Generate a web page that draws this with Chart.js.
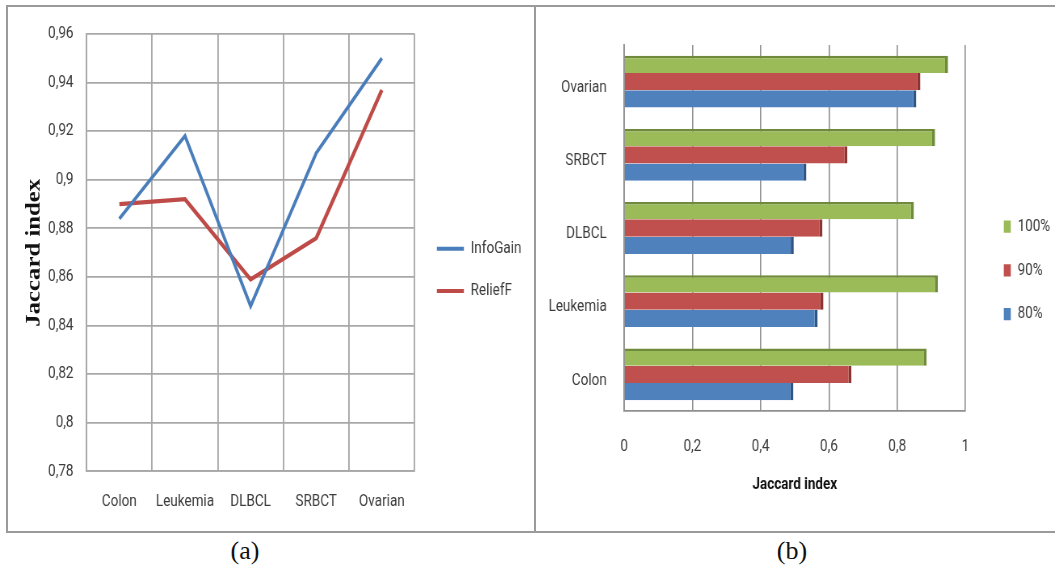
<!DOCTYPE html>
<html>
<head>
<meta charset="utf-8">
<script src="https://cdn.jsdelivr.net/npm/chart.js@4"></script>
<style>
    body { margin: 0; background: #fff; width: 1055px; height: 569px; overflow: hidden; position: relative; }
    .frame { position: absolute; box-sizing: border-box; border: 2px solid #9a9a9a; }
    /* the source picture is stretched vertically, so the canvases are too */
    canvas { position: absolute; top: 0; transform-origin: 0 0; transform: scaleY(1.2383); }
    .cap { position: absolute; top: 536px; width: 80px; text-align: center; font: 26px 'Liberation Serif', 'Times New Roman', serif; color: #111; }
</style>
</head>
<body>
<div class="frame" style="left:6px; top:5px; width:530px; height:528px;"></div>
<div class="frame" style="left:534px; top:5px; width:540px; height:528px;"></div>
<canvas id="lineChart" width="534" height="428" style="left:0"></canvas>
<canvas id="barChart" width="519" height="428" style="left:536px"></canvas>
<div class="cap" style="left:205px">(a)</div>
<div class="cap" style="left:752px">(b)</div>
<script>
// data
const categories = ['Colon', 'Leukemia', 'DLBCL', 'SRBCT', 'Ovarian'];
const infoGain = [0.884, 0.918, 0.848, 0.911, 0.950];
const reliefF = [0.890, 0.892, 0.859, 0.876, 0.937];

const pct100 = [0.886, 0.919, 0.849, 0.911, 0.949];
const pct90 = [0.666, 0.584, 0.581, 0.654, 0.868];
const pct80 = [0.496, 0.567, 0.497, 0.534, 0.856];

const lineTicks = { min: 0.78, max: 0.96, step: 0.02 };
const barTicks = { min: 0, max: 1, step: 0.2 };

const S = 1.2383; // vertical stretch of the canvases
Chart.defaults.font.family = "Roboto, 'Liberation Sans', sans-serif";
Chart.defaults.font.size = 13.5;
Chart.defaults.color = '#3c3c3c';

function commaNum(v) {
    return Number(v.toFixed(2)).toString().replace('.', ',');
}

// move the legend to a fixed spot after layout
const legendAt = {
    id: 'legendAt',
    afterLayout(chart, args, opts) {
        const lg = chart.legend;
        if (!lg || opts.x == null) return;
        const w = lg.width, h = lg.height;
        lg.left = opts.x; lg.right = opts.x + w;
        lg.top = opts.y; lg.bottom = opts.y + h;
    }
};

// legend boxes without outline; lines use their stroke colour
function flatLegend(chart) {
    const isLine = chart.config.type === 'line';
    return Chart.defaults.plugins.legend.labels.generateLabels(chart).map(it => {
        it.lineWidth = 0;
        if (isLine) it.fillStyle = it.strokeStyle;
        return it;
    });
}

new Chart(document.getElementById('lineChart'), {
    type: 'line',
    data: {
        labels: categories,
        datasets: [{
            label: 'InfoGain',
            data: infoGain,
            borderColor: '#4a7ebb',
            backgroundColor: '#4a7ebb',
            borderWidth: 3,
            pointRadius: 0,
            tension: 0
        }, {
            label: 'ReliefF',
            data: reliefF,
            borderColor: '#be4b48',
            backgroundColor: '#be4b48',
            borderWidth: 3.4,
            pointRadius: 0,
            tension: 0
        }]
    },
    plugins: [legendAt],
    options: {
        responsive: false,
        animation: false,
        devicePixelRatio: S,
        layout: { padding: { top: 34 / S, left: 0, right: 119.5, bottom: 0 } },
        scales: {
            x: {
                offset: true,
                grid: { offset: true, color: '#a8a8a8', lineWidth: 1.5, drawTicks: false },
                border: { color: '#a8a8a8', width: 1.5 },
                ticks: { padding: 16.7, maxRotation: 0, autoSkip: false },
                afterFit: s => { s.height = 428 - 471.4 / S; }
            },
            y: {
                min: lineTicks.min,
                max: lineTicks.max,
                grid: { color: '#a8a8a8', lineWidth: 1.5, drawTicks: false },
                border: { color: '#a8a8a8', width: 1.5 },
                ticks: { stepSize: lineTicks.step, padding: 13, callback: v => commaNum(v) },
                title: {
                    display: true,
                    text: 'Jaccard index',
                    color: '#111',
                    padding: { top: 22.4, bottom: 0 },
                    font: { family: "'Liberation Serif', 'Times New Roman', serif", size: 20, weight: 'bold' }
                },
                afterFit: s => { s.width = 86.5; }
            }
        },
        plugins: {
            legend: {
                position: 'chartArea',
                align: 'start',
                labels: { boxWidth: 27, boxHeight: 3.2, padding: 20.7, generateLabels: flatLegend }
            },
            legendAt: { x: 416, y: 173.4 },
            tooltip: { enabled: false }
        }
    }
});

new Chart(document.getElementById('barChart'), {
    type: 'bar',
    data: {
        labels: categories,
        datasets: [{
            label: '100%',
            data: pct100,
            backgroundColor: '#9bbb59',
            borderColor: '#6f8a3a',
            borderWidth: { top: 2, right: 3, bottom: 0, left: 0 }
        }, {
            label: '90%',
            data: pct90,
            backgroundColor: '#c0504d',
            borderColor: '#8c3431',
            borderWidth: { top: 0, right: 3, bottom: 0, left: 0 }
        }, {
            label: '80%',
            data: pct80,
            backgroundColor: '#4f81bd',
            borderColor: '#2f5584',
            borderWidth: { top: 0, right: 3, bottom: 0, left: 0 }
        }]
    },
    plugins: [legendAt],
    options: {
        indexAxis: 'y',
        responsive: false,
        animation: false,
        devicePixelRatio: S,
        datasets: { bar: { categoryPercentage: 0.707, barPercentage: 1.0 } },
        layout: { padding: { top: 45 / S, left: 0, right: 90, bottom: 0 } },
        scales: {
            x: {
                min: barTicks.min,
                max: barTicks.max,
                grid: { color: '#8f8f8f', lineWidth: 1.3, drawTicks: false },
                border: { color: '#8f8f8f', width: 1.5 },
                ticks: { stepSize: barTicks.step, padding: 21, callback: v => commaNum(v) },
                title: {
                    display: true,
                    text: 'Jaccard index',
                    color: '#111',
                    padding: { top: 0, bottom: 28.1 },
                    font: { size: 13.5, weight: 'bold' }
                },
                afterFit: s => { s.height = 428 - 411 / S; }
            },
            y: {
                reverse: true,
                grid: { display: false, drawTicks: false },
                border: { color: '#8f8f8f', width: 1.5 },
                ticks: { padding: 17.3, labelOffset: 4.8 },
                afterFit: s => { s.width = 88; }
            }
        },
        plugins: {
            legend: {
                position: 'chartArea',
                align: 'start',
                labels: { boxWidth: 7, boxHeight: 10, padding: 21.8, generateLabels: flatLegend }
            },
            legendAt: { x: 445.5, y: 154.5 },
            tooltip: { enabled: false }
        }
    }
});
</script>
</body>
</html>
